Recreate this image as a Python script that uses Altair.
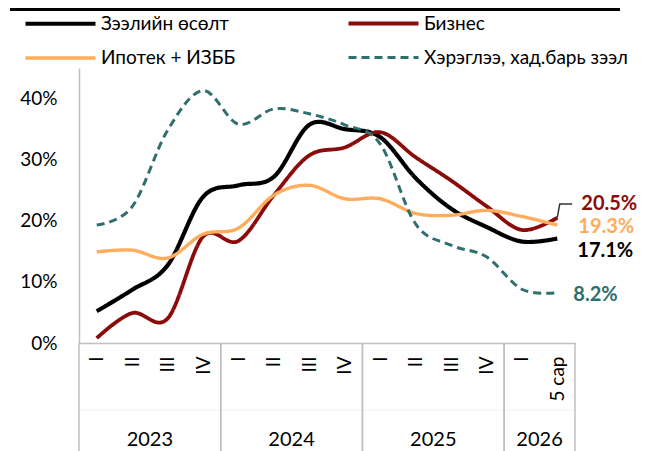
import json
import altair as alt
import pandas as pd

# ---------------- data ----------------
quarters = ["I", "II", "III", "IV", "I", "II", "III", "IV", "I", "II", "III", "IV", "I", "5 сар"]
years = ["2023"] * 4 + ["2024"] * 4 + ["2025"] * 4 + ["2026"] * 2

series_names = ["Зээлийн өсөлт", "Бизнес", "Ипотек + ИЗББ", "Хэрэглээ, хад.барь зээл"]
loan_growth = [5.2, 8.7, 12.7, 23.9, 25.8, 27.2, 35.7, 35.0, 33.7, 27.0, 22.0, 19.0, 16.6, 17.1]
business = [0.8, 4.9, 4.0, 17.4, 16.7, 24.2, 30.7, 32.0, 34.5, 30.4, 26.6, 22.4, 18.5, 20.5]
mortgage = [14.9, 15.2, 13.9, 17.8, 18.8, 24.2, 25.8, 23.6, 23.6, 21.2, 20.9, 21.7, 20.7, 19.3]
consumer = [19.3, 22.3, 34.8, 41.3, 35.8, 38.3, 37.5, 35.7, 32.6, 19.5, 16.0, 14.1, 8.8, 8.2]

colors = ["#000000", "#8B0A0A", "#FFAD5C", "#2F6F6D"]
y_ticks = [0, 0.1, 0.2, 0.3, 0.4]

# ---------------- tables ----------------
all_series = [loan_growth, business, mortgage, consumer]
rows = []
for name, vals in zip(series_names, all_series):
    for i, v in enumerate(vals):
        rows.append({"idx": i, "quarter": quarters[i], "year": years[i],
                     "series": name, "value": v / 100})
df = pd.DataFrame(rows)
cats = pd.DataFrame({"idx": list(range(len(quarters))), "quarter": quarters, "year": years})

FONT = "Lato"
W, H = 496, 275

x_scale = alt.Scale(domain=[-0.5, len(quarters) - 0.5], nice=False, zero=False)
y_scale = alt.Scale(domain=[0, 0.45], nice=False)

x_axis = alt.Axis(
    title=None, values=list(range(len(quarters))),
    labelExpr=json.dumps(quarters, ensure_ascii=False) + "[datum.value]",
    labelAngle=270, labelPadding=13, labelFontSize=19, labelFont=FONT,
    labelColor="#000000", ticks=False, grid=False, domainColor="#BFBFBF",
    domainWidth=1.5, labelOverlap=False, labelBound=False, labelFlush=False)
y_axis = alt.Axis(
    title=None, values=y_ticks, format=".0%", labelPadding=22, labelFontSize=19,
    labelFont=FONT, labelColor="#000000", ticks=False, grid=False,
    domainColor="#BFBFBF", domainWidth=1.5)

legend = alt.Legend(
    title=None, orient="none", legendX=-31, legendY=-57, columns=2, direction="horizontal",
    columnPadding=104, rowPadding=12, symbolType="M-3.5,0H3.5", symbolSize=400,
    symbolStrokeWidth=3.5, labelFontSize=19, labelFont=FONT, labelColor="#000000",
    labelOffset=28, labelLimit=400,
)

lines = alt.Chart(df).mark_line(interpolate="cardinal", strokeCap="butt").encode(
    x=alt.X("idx:Q", scale=x_scale, axis=x_axis),
    y=alt.Y("value:Q", scale=y_scale, axis=y_axis),
    color=alt.Color("series:N", scale=alt.Scale(domain=series_names, range=colors), legend=legend),
    strokeDash=alt.StrokeDash("series:N", scale=alt.Scale(
        domain=series_names, range=[[1, 0], [1, 0], [1, 0], [8, 5]]), legend=legend),
    strokeWidth=alt.StrokeWidth("series:N", scale=alt.Scale(
        domain=series_names, range=[4.2, 3, 3.2, 3]), legend=None),
    detail="series:N",
)

# end-of-line value labels
label_offsets = {
    series_names[1]: (24, -14),
    series_names[2]: (21, 2),
    series_names[0]: (20, 12),
    series_names[3]: (16, 2),
}
label_layers = []
for name, color in zip(series_names, colors):
    dx, dy = label_offsets[name]
    label_layers.append(
        alt.Chart(df).transform_filter(
            (alt.datum.series == name) & (alt.datum.idx == len(quarters) - 1)
        ).mark_text(align="left", baseline="middle", dx=dx, dy=dy, fontSize=20,
                    fontWeight="bold", font=FONT, color=color).encode(
            x=alt.X("idx:Q", scale=x_scale, axis=x_axis),
            y=alt.Y("value:Q", scale=y_scale, axis=y_axis),
            text=alt.Text("value:Q", format=".1%"),
        )
    )

# leader line for the business label
last_i = len(quarters) - 1
b_last = business[-1] / 100
leader_df = pd.DataFrame({"lx": [last_i, last_i + 0.07, last_i + 0.42],
                          "ly": [b_last, b_last + 0.0225, b_last + 0.0225],
                          "o": [0, 1, 2]})
leader = alt.Chart(leader_df).mark_line(color="#333333", strokeWidth=1.5).encode(
    x=alt.X("lx:Q", scale=x_scale, axis=x_axis),
    y=alt.Y("ly:Q", scale=y_scale, axis=y_axis),
    order="o:Q",
)

# year labels under the quarter labels
year_labels = alt.Chart(cats).transform_aggregate(
    mid="mean(idx)", groupby=["year"]
).mark_text(baseline="middle", align="center", fontSize=20, font=FONT, color="#000000").encode(
    x=alt.X("mid:Q", scale=x_scale, axis=x_axis),
    y=alt.value(372),
    text="year:N",
)

# group separators
sep_lo = alt.Chart(cats).transform_aggregate(
    lo="min(idx)", groupby=["year"]
).transform_calculate(sep="datum.lo - 0.5").mark_rule(
    color="#BFBFBF", strokeWidth=1.5).encode(
    x=alt.X("sep:Q", scale=x_scale, axis=x_axis), y=alt.value(H), y2=alt.value(H + 108))
sep_hi = alt.Chart(cats).transform_aggregate(
    hi="max(idx)", groupby=["year"]
).transform_calculate(sep="datum.hi + 0.5").mark_rule(
    color="#BFBFBF", strokeWidth=1.5).encode(
    x=alt.X("sep:Q", scale=x_scale, axis=x_axis), y=alt.value(H), y2=alt.value(H + 108))

one = pd.DataFrame({"k": [0]})
faint = alt.Chart(one).mark_rule(color="#F0F0F0", strokeWidth=1).encode(
    x=alt.value(0), x2=alt.value(W), y=alt.value(342))
top_rule = alt.Chart(one).mark_rule(color="#000000", strokeWidth=3).encode(
    x=alt.value(-69), x2=alt.value(541), y=alt.value(-58.5))

chart = alt.layer(
    faint, sep_lo, sep_hi, lines, leader, *label_layers, year_labels, top_rule
).properties(
    width=W, height=H,
    autosize=alt.AutoSizeParams(type="none"),
    padding={"left": 71, "top": 60, "right": 71, "bottom": 108},
).configure_view(stroke=None)

chart.save("out.html", embed_options={"renderer": "svg", "actions": False})
